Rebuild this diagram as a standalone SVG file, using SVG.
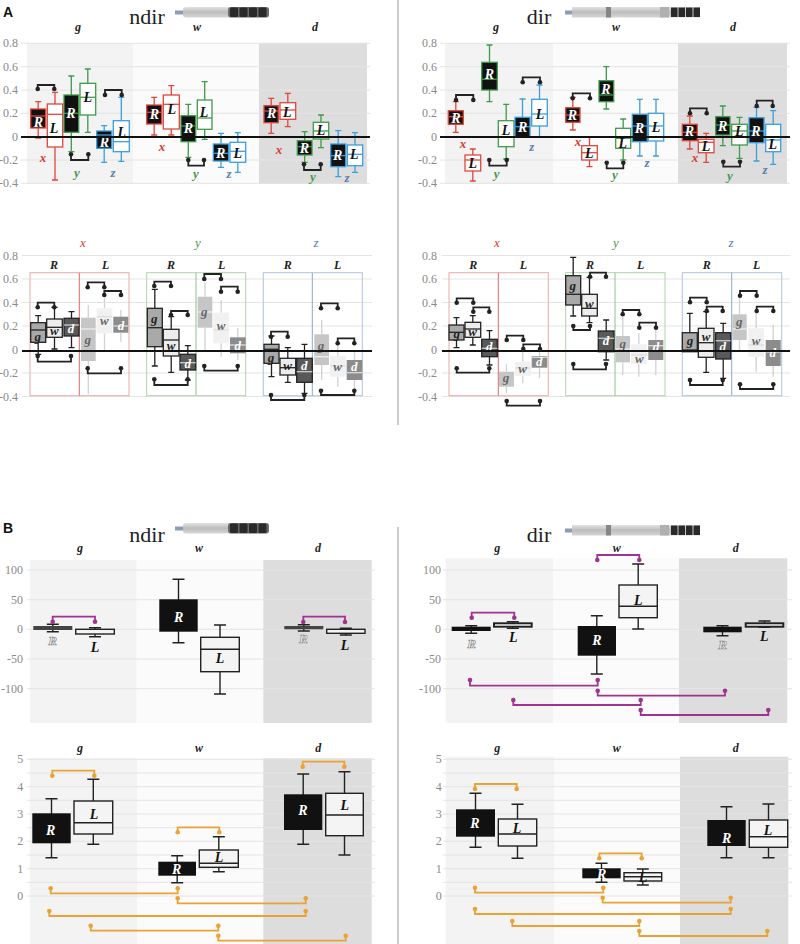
<svg xmlns="http://www.w3.org/2000/svg" width="800" height="944" viewBox="0 0 800 944">
<style>
text{font-family:"Liberation Serif",serif}
.ax{font-size:12px;fill:#8a8a8a;text-anchor:end}
.hd{font-size:12px;font-style:italic;font-weight:bold;fill:#222;text-anchor:middle}
.ti{font-size:22px;fill:#222;text-anchor:middle}
.pl{font-family:"Liberation Sans",sans-serif;font-size:14px;font-weight:bold;fill:#111}
.lw{font-size:14px;font-style:italic;font-weight:bold;fill:#fff;text-anchor:middle}
.lk{font-size:14px;font-style:italic;font-weight:bold;fill:#111;text-anchor:middle}
.hol{font-size:13px;font-style:italic;font-weight:bold;fill:#fff;stroke:#8a8a8a;stroke-width:0.7;text-anchor:middle}
.gl{font-size:13px;font-style:italic;font-weight:bold;fill:#222;text-anchor:middle}
.gw{font-size:13px;font-style:italic;font-weight:bold;fill:#fff;text-anchor:middle}
.gf{font-size:13px;font-style:italic;font-weight:bold;fill:#666;text-anchor:middle}
.cx{font-size:13px;font-style:italic;font-weight:bold;fill:#d93a30;text-anchor:middle}
.cy{font-size:13px;font-style:italic;font-weight:bold;fill:#3f9a4a;text-anchor:middle}
.cz{font-size:13px;font-style:italic;font-weight:bold;fill:#5b7fa8;text-anchor:middle}
.hx{font-size:13px;font-style:italic;fill:#d93a30;text-anchor:middle}
.hy{font-size:13px;font-style:italic;fill:#3f9a4a;text-anchor:middle}
.hz{font-size:13px;font-style:italic;fill:#4a78b8;text-anchor:middle}
.grid{stroke:#e4e4e4;stroke-width:1}
.zero{stroke:#111;stroke-width:2}
.div{stroke:#999;stroke-width:1}
.s{fill:none;stroke-width:1.3}
.red{stroke:#e0463c}.grn{stroke:#3f9a4a}.blu{stroke:#3a9fdc}
.k{stroke:#222}.fwk{stroke:#d2d2d2}
.kf{fill:#111}.wf{fill:#fff}
rect.bx{stroke-width:1.3}
.gg{fill:#a9a9a9}.gwf{fill:#ededed}.gd{fill:#595959}
.fg{fill:#c6c6c6}.fw{fill:#f1f1f1}.fd{fill:#8c8c8c}
.bandg{fill:#f3f3f3}.bandw{fill:#fbfbfb}.bandd{fill:#dddddd}
.br{fill:none;stroke:#222;stroke-width:1.8}.bd{fill:#222}
.pu{fill:none;stroke:#a0338f;stroke-width:1.8}.pud{fill:#a0338f}
.or{fill:none;stroke:#eba234;stroke-width:1.8}.ord{fill:#eba234}
.bw{fill:none;stroke:#222;stroke-width:1.4}
.bl{fill:#f4f4f4;stroke:#222;stroke-width:1.4}
.bk{fill:#111}
</style>
<defs>
<linearGradient id="pg" x1="0" y1="0" x2="0" y2="1">
<stop offset="0" stop-color="#e2e2e2"/><stop offset="0.5" stop-color="#bdbdbd"/><stop offset="1" stop-color="#d6d6d6"/>
</linearGradient>
<g id="penN">
<rect x="175" y="10.5" width="9" height="4" fill="#8d9bb5"/>
<rect x="183" y="7" width="86" height="10.5" rx="3" fill="url(#pg)"/>
<rect x="228" y="7" width="41" height="10.5" rx="3" fill="#6a6a6a"/>
<rect x="230" y="7.5" width="8" height="9.5" rx="1.5" fill="#2a2a2a"/>
<rect x="239.5" y="7.5" width="8" height="9.5" rx="1.5" fill="#2a2a2a"/>
<rect x="249" y="7.5" width="8" height="9.5" rx="1.5" fill="#2a2a2a"/>
<rect x="258.5" y="7.5" width="8" height="9.5" rx="1.5" fill="#2a2a2a"/>
</g>
<g id="penD">
<rect x="565" y="10.5" width="8" height="4" fill="#8d9bb5"/>
<rect x="572" y="7" width="128" height="10.5" fill="url(#pg)"/>
<rect x="606" y="7" width="5" height="10.5" fill="#858585"/>
<rect x="660" y="7" width="9" height="10.5" fill="#b0b0b0"/>
<rect x="671" y="7.5" width="6.5" height="9.5" fill="#2a2a2a"/>
<rect x="678.5" y="7.5" width="6.5" height="9.5" fill="#2a2a2a"/>
<rect x="686" y="7.5" width="6.5" height="9.5" fill="#2a2a2a"/>
<rect x="693.5" y="7.5" width="6.5" height="9.5" fill="#2a2a2a"/>
</g>
</defs>
<rect width="800" height="944" fill="#fff"/>

<g id="titles">
<text class="pl" x="3" y="17">A</text>
<text class="ti" x="147" y="24">ndir</text>
<use href="#penN"/>
<text class="ti" x="539" y="24">dir</text>
<use href="#penD"/>
<text class="pl" x="3" y="533">B</text>
<text class="ti" x="147" y="542">ndir</text>
<use href="#penN" transform="translate(0,516)"/>
<text class="ti" x="539" y="542">dir</text>
<use href="#penD" transform="translate(0,518)"/>
<line class="div" x1="398" y1="0" x2="398" y2="425"/>
<line class="div" x1="398" y1="527" x2="398" y2="944"/>
</g>

<g id="a-top-axes">
<rect class="bandg" x="27" y="43" width="106" height="141"/>
<rect class="bandw" x="133" y="43" width="126" height="141"/>
<rect class="bandd" x="259" y="43" width="108" height="141"/>
<rect class="bandg" x="445" y="43" width="108" height="141"/>
<rect class="bandw" x="553" y="43" width="125" height="141"/>
<rect class="bandd" x="678" y="43" width="109" height="141"/>
<g class="grid">
<line x1="21" y1="43.3" x2="370" y2="43.3"/><line x1="21" y1="66.7" x2="370" y2="66.7"/><line x1="21" y1="90" x2="370" y2="90"/><line x1="21" y1="113.3" x2="370" y2="113.3"/><line x1="21" y1="160" x2="370" y2="160"/><line x1="21" y1="183.3" x2="370" y2="183.3"/>
<line x1="440" y1="43.3" x2="790" y2="43.3"/><line x1="440" y1="66.7" x2="790" y2="66.7"/><line x1="440" y1="90" x2="790" y2="90"/><line x1="440" y1="113.3" x2="790" y2="113.3"/><line x1="440" y1="160" x2="790" y2="160"/><line x1="440" y1="183.3" x2="790" y2="183.3"/>
</g>
<text class="ax" x="18" y="47.3">0.8</text><text class="ax" x="18" y="70.7">0.6</text><text class="ax" x="18" y="94">0.4</text><text class="ax" x="18" y="117.3">0.2</text><text class="ax" x="18" y="140.7">0</text><text class="ax" x="18" y="164">-0.2</text><text class="ax" x="18" y="187.3">-0.4</text>
<text class="ax" x="437" y="47.3">0.8</text><text class="ax" x="437" y="70.7">0.6</text><text class="ax" x="437" y="94">0.4</text><text class="ax" x="437" y="117.3">0.2</text><text class="ax" x="437" y="140.7">0</text><text class="ax" x="437" y="164">-0.2</text><text class="ax" x="437" y="187.3">-0.4</text>
<text class="hd" x="78" y="31">g</text><text class="hd" x="197" y="31">w</text><text class="hd" x="315" y="31">d</text>
<text class="hd" x="496" y="31">g</text><text class="hd" x="616" y="31">w</text><text class="hd" x="733" y="31">d</text>
</g>

<g id="a-ndir-g-xR"><path class="s red" d="M38.2,101.7V109M38.2,128V138M35.2,101.7h6M35.2,138h6"/><rect class="bx red kf" x="30.7" y="109" width="15" height="19"/><path class="s red" d="M30.7,116h15"/><text class="lw" x="38.3" y="127.3">R</text></g>
<g id="a-ndir-g-xL"><path class="s red" d="M55,92.3V104M55,147V180M52,92.3h6M52,180h6"/><rect class="bx red wf" x="47.3" y="104" width="15.4" height="43"/><path class="s red" d="M47.3,114.3h15.4"/><text class="lk" x="54" y="133.3">L</text></g>
<g id="a-ndir-g-yR"><path class="s grn" d="M71.3,76V95M71.3,132.3V151.7M68.3,76h6M68.3,151.7h6"/><rect class="bx grn kf" x="64" y="95" width="14.7" height="37.3"/><path class="s grn" d="M64,113.3h14.7"/><text class="lw" x="71" y="118.3">R</text></g>
<g id="a-ndir-g-yL"><path class="s grn" d="M87.8,69V83.3M87.8,115V132.3M84.8,69h6M84.8,132.3h6"/><rect class="bx grn wf" x="80" y="83.3" width="15.7" height="31.7"/><path class="s grn" d="M80,97.3h15.7"/><text class="lk" x="87.7" y="101.7">L</text></g>
<g id="a-ndir-g-zR"><path class="s blu" d="M104.2,125.7V131M104.2,148.3V162.3M101.2,125.7h6M101.2,162.3h6"/><rect class="bx blu kf" x="96.7" y="131" width="15" height="17.3"/><path class="s blu" d="M96.7,135h15"/><text class="lw" x="104.3" y="146.7">R</text></g>
<g id="a-ndir-g-zL"><path class="s blu" d="M121.3,97.3V120.7M121.3,151.7V161.3M118.3,97.3h6M118.3,161.3h6"/><rect class="bx blu wf" x="113.3" y="120.7" width="16" height="31"/><path class="s blu" d="M113.3,141.7h16"/><text class="lk" x="121.7" y="136.7">L</text></g>
<g id="a-ndir-w-xR"><path class="s red" d="M154.2,97.3V105M154.2,124V135M151.2,97.3h6M151.2,135h6"/><rect class="bx red kf" x="146.7" y="105" width="15" height="19"/><path class="s red" d="M146.7,112.3h15"/><text class="lw" x="154.3" y="119.3">R</text></g>
<g id="a-ndir-w-xL"><path class="s red" d="M171.3,85.7V95M171.3,129V135M168.3,85.7h6M168.3,135h6"/><rect class="bx red wf" x="163.3" y="95" width="16" height="34"/><path class="s red" d="M163.3,104.3h16"/><text class="lk" x="171.7" y="114">L</text></g>
<g id="a-ndir-w-yR"><path class="s grn" d="M188.3,104.3V115.7M188.3,141.7V157.3M185.3,104.3h6M185.3,157.3h6"/><rect class="bx grn kf" x="181" y="115.7" width="14.7" height="26"/><path class="s grn" d="M181,126h14.7"/><text class="lw" x="188.3" y="133.3">R</text></g>
<g id="a-ndir-w-yL"><path class="s grn" d="M204.7,81.7V100M204.7,129.3V139.3M201.7,81.7h6M201.7,139.3h6"/><rect class="bx grn wf" x="197.3" y="100" width="14.7" height="29.3"/><path class="s grn" d="M197.3,118h14.7"/><text class="lk" x="204" y="117.3">L</text></g>
<g id="a-ndir-w-zR"><path class="s blu" d="M221,133.3V144M221,161V167.3M218,133.3h6M218,167.3h6"/><rect class="bx blu kf" x="213.3" y="144" width="15.4" height="17"/><path class="s blu" d="M213.3,153.3h15.4"/><text class="lw" x="220.7" y="158.3">R</text></g>
<g id="a-ndir-w-zL"><path class="s blu" d="M237.8,132.7V142.3M237.8,162.3V172.3M234.8,132.7h6M234.8,172.3h6"/><rect class="bx blu wf" x="230" y="142.3" width="15.7" height="20"/><path class="s blu" d="M230,151.3h15.7"/><text class="lk" x="237.7" y="158.3">L</text></g>
<g id="a-ndir-d-xR"><path class="s red" d="M271.2,98.3V105.7M271.2,122.7V133.3M268.2,98.3h6M268.2,133.3h6"/><rect class="bx red kf" x="264" y="105.7" width="14.3" height="17"/><path class="s red" d="M264,111h14.3"/><text class="lw" x="271.7" y="118.3">R</text></g>
<g id="a-ndir-d-xL"><path class="s red" d="M287.8,93.3V102.7M287.8,119.3V126.7M284.8,93.3h6M284.8,126.7h6"/><rect class="bx red wf" x="280" y="102.7" width="15.7" height="16.6"/><path class="s red" d="M280,110h15.7"/><text class="lk" x="287.3" y="117.3">L</text></g>
<g id="a-ndir-d-yR"><path class="s grn" d="M304.7,131.7V140.7M304.7,155V162.3M301.7,131.7h6M301.7,162.3h6"/><rect class="bx grn kf" x="297.3" y="140.7" width="14.7" height="14.3"/><path class="s grn" d="M297.3,146.7h14.7"/><text class="lw" x="304.3" y="152.7">R</text></g>
<g id="a-ndir-d-yL"><path class="s grn" d="M321,115V122.3M321,139V147.7M318,115h6M318,147.7h6"/><rect class="bx grn wf" x="313.3" y="122.3" width="15.4" height="16.7"/><path class="s grn" d="M313.3,131h15.4"/><text class="lk" x="321" y="135">L</text></g>
<g id="a-ndir-d-zR"><path class="s blu" d="M338.2,130.7V144M338.2,166.7V176.7M335.2,130.7h6M335.2,176.7h6"/><rect class="bx blu kf" x="330.7" y="144" width="15" height="22.7"/><path class="s blu" d="M330.7,155.7h15"/><text class="lw" x="337.7" y="160">R</text></g>
<g id="a-ndir-d-zL"><path class="s blu" d="M355,132.7V145M355,165.7V172.3M352,132.7h6M352,172.3h6"/><rect class="bx blu wf" x="347.3" y="145" width="15.4" height="20.7"/><path class="s blu" d="M347.3,154.3h15.4"/><text class="lk" x="354.3" y="159.3">L</text></g>
<g id="a-ndir-axislabels">
<text class="cx" x="43" y="162">x</text><text class="cy" x="77" y="177">y</text><text class="cz" x="113" y="177">z</text>
<text class="cx" x="162" y="151">x</text><text class="cy" x="196" y="178">y</text><text class="cz" x="229" y="178">z</text>
<text class="cx" x="279" y="154">x</text><text class="cy" x="313" y="181">y</text><text class="cz" x="347" y="182">z</text>
</g>

<g id="a-dir-g-xR"><path class="s red" d="M455.8,101.7V110.7M455.8,124.3V132.3M452.8,101.7h6M452.8,132.3h6"/><rect class="bx red kf" x="448.3" y="110.7" width="15" height="13.6"/><path class="s red" d="M448.3,116.7h15"/><text class="lw" x="456" y="123.3">R</text></g>
<g id="a-dir-g-xL"><path class="s red" d="M472.8,149V155M472.8,171V181M469.8,149h6M469.8,181h6"/><rect class="bx red wf" x="465" y="155" width="15.7" height="16"/><path class="s red" d="M465,160h15.7"/><text class="lk" x="472.7" y="167.7">L</text></g>
<g id="a-dir-g-yR"><path class="s grn" d="M489.5,45V62.3M489.5,90V101.7M486.5,45h6M486.5,101.7h6"/><rect class="bx grn kf" x="481.7" y="62.3" width="15.6" height="27.7"/><path class="s grn" d="M481.7,79.3h15.6"/><text class="lw" x="489.3" y="79">R</text></g>
<g id="a-dir-g-yL"><path class="s grn" d="M506.2,104.3V120.7M506.2,146.7V159M503.2,104.3h6M503.2,159h6"/><rect class="bx grn wf" x="498.3" y="120.7" width="15.7" height="26"/><path class="s grn" d="M498.3,136.7h15.7"/><text class="lk" x="506" y="135">L</text></g>
<g id="a-dir-g-zR"><path class="s blu" d="M522.5,99V117.3M519.5,99h6"/><rect class="bx blu kf" x="515" y="117.3" width="15" height="20"/><path class="s blu" d="M515,126.7h15"/><text class="lw" x="522.7" y="132.3">R</text></g>
<g id="a-dir-g-zL"><path class="s blu" d="M539.5,85V99.3M539.5,126V137.3M536.5,85h6M536.5,137.3h6"/><rect class="bx blu wf" x="531.7" y="99.3" width="15.6" height="26.7"/><path class="s blu" d="M531.7,114h15.6"/><text class="lk" x="540" y="119">L</text></g>
<g id="a-dir-w-xR"><path class="s red" d="M572.8,97.3V107.7M572.8,122.3V130M569.8,97.3h6M569.8,130h6"/><rect class="bx red kf" x="565.7" y="107.7" width="14.3" height="14.6"/><path class="s red" d="M565.7,115h14.3"/><text class="lw" x="572.3" y="120">R</text></g>
<g id="a-dir-w-xL"><path class="s red" d="M589.5,137.3V145.7M589.5,160V166.7M586.5,137.3h6M586.5,166.7h6"/><rect class="bx red wf" x="581.7" y="145.7" width="15.6" height="14.3"/><path class="s red" d="M581.7,152.7h15.6"/><text class="lk" x="589.3" y="158.3">L</text></g>
<g id="a-dir-w-yR"><path class="s grn" d="M606.3,66.7V80.7M606.3,101.7V109M603.3,66.7h6M603.3,109h6"/><rect class="bx grn kf" x="599" y="80.7" width="14.7" height="21"/><path class="s grn" d="M599,95h14.7"/><text class="lw" x="606" y="94.3">R</text></g>
<g id="a-dir-w-yL"><path class="s grn" d="M623.2,119V128.3M623.2,148.3V160M620.2,119h6M620.2,160h6"/><rect class="bx grn wf" x="615.7" y="128.3" width="15" height="20"/><path class="s grn" d="M615.7,138.3h15"/><text class="lk" x="622.7" y="148.3">L</text></g>
<g id="a-dir-w-zR"><path class="s blu" d="M639.8,99.3V114.3M639.8,141.7V156M636.8,99.3h6M636.8,156h6"/><rect class="bx blu kf" x="632.3" y="114.3" width="15" height="27.4"/><path class="s blu" d="M632.3,126h15"/><text class="lw" x="639.3" y="132.7">R</text></g>
<g id="a-dir-w-zL"><path class="s blu" d="M656,99.3V113.3M656,141V156M653,99.3h6M653,156h6"/><rect class="bx blu wf" x="648.3" y="113.3" width="15.4" height="27.7"/><path class="s blu" d="M648.3,126h15.4"/><text class="lk" x="656" y="131.7">L</text></g>
<g id="a-dir-d-xR"><path class="s red" d="M689.8,116V124.3M689.8,140.7V149M686.8,116h6M686.8,149h6"/><rect class="bx red kf" x="682.3" y="124.3" width="15" height="16.4"/><path class="s red" d="M682.3,132.3h15"/><text class="lw" x="689.3" y="136">R</text></g>
<g id="a-dir-d-xL"><path class="s red" d="M706.2,133.3V139.3M706.2,152.7V162.3M703.2,133.3h6M703.2,162.3h6"/><rect class="bx red wf" x="698.3" y="139.3" width="15.7" height="13.4"/><path class="s red" d="M698.3,142.3h15.7"/><text class="lk" x="706" y="150.7">L</text></g>
<g id="a-dir-d-yR"><path class="s grn" d="M722.8,106V116.7M722.8,135V145.7M719.8,106h6M719.8,145.7h6"/><rect class="bx grn kf" x="715.7" y="116.7" width="14.3" height="18.3"/><path class="s grn" d="M715.7,125h14.3"/><text class="lw" x="722.7" y="131">R</text></g>
<g id="a-dir-d-yL"><path class="s grn" d="M739.5,117.3V124.3M739.5,145V158.3M736.5,117.3h6M736.5,158.3h6"/><rect class="bx grn wf" x="731.7" y="124.3" width="15.6" height="20.7"/><path class="s grn" d="M731.7,131h15.6"/><text class="lk" x="739.3" y="136">L</text></g>
<g id="a-dir-d-zR"><path class="s blu" d="M756.5,107.3V117.7M756.5,142.7V161M753.5,107.3h6M753.5,161h6"/><rect class="bx blu kf" x="749" y="117.7" width="15" height="25"/><path class="s blu" d="M749,131h15"/><text class="lw" x="756" y="135.7">R</text></g>
<g id="a-dir-d-zL"><path class="s blu" d="M773.2,110.7V124.3M773.2,151.7V164.3M770.2,110.7h6M770.2,164.3h6"/><rect class="bx blu wf" x="765.7" y="124.3" width="15" height="27.4"/><path class="s blu" d="M765.7,140h15"/><text class="lk" x="772.7" y="149">L</text></g>
<g id="a-dir-axislabels">
<text class="cx" x="463" y="148">x</text><text class="cy" x="496.7" y="178">y</text><text class="cz" x="531.7" y="151">z</text>
<text class="cx" x="578" y="146">x</text><text class="cy" x="615" y="179">y</text><text class="cz" x="647" y="167">z</text>
<text class="cx" x="695" y="161.7">x</text><text class="cy" x="730" y="179.7">y</text><text class="cz" x="765" y="174">z</text>
</g>
<g id="a-top-zero"><line class="zero" x1="21" y1="137" x2="370" y2="137"/><line class="zero" x1="440" y1="137" x2="790" y2="137"/></g>

<g id="a-low-axes">
<g class="grid">
<line x1="22" y1="255.5" x2="372" y2="255.5"/><line x1="22" y1="279" x2="372" y2="279"/><line x1="22" y1="302.5" x2="372" y2="302.5"/><line x1="22" y1="326" x2="372" y2="326"/><line x1="22" y1="373" x2="372" y2="373"/><line x1="22" y1="396.5" x2="372" y2="396.5"/>
<line x1="442" y1="255.5" x2="790" y2="255.5"/><line x1="442" y1="279" x2="790" y2="279"/><line x1="442" y1="302.5" x2="790" y2="302.5"/><line x1="442" y1="326" x2="790" y2="326"/><line x1="442" y1="373" x2="790" y2="373"/><line x1="442" y1="396.5" x2="790" y2="396.5"/>
</g>
<text class="ax" x="18" y="259.5">0.8</text><text class="ax" x="18" y="283">0.6</text><text class="ax" x="18" y="306.5">0.4</text><text class="ax" x="18" y="330">0.2</text><text class="ax" x="18" y="353.5">0</text><text class="ax" x="18" y="377">-0.2</text><text class="ax" x="18" y="400.5">-0.4</text>
<text class="ax" x="437" y="259.5">0.8</text><text class="ax" x="437" y="283">0.6</text><text class="ax" x="437" y="306.5">0.4</text><text class="ax" x="437" y="330">0.2</text><text class="ax" x="437" y="353.5">0</text><text class="ax" x="437" y="377">-0.2</text><text class="ax" x="437" y="400.5">-0.4</text>
<text class="hx" x="83" y="247">x</text><text class="hy" x="198" y="247">y</text><text class="hz" x="316" y="247">z</text>
<text class="hx" x="497" y="247">x</text><text class="hy" x="616" y="247">y</text><text class="hz" x="731" y="247">z</text>
<text class="hd" x="54" y="269">R</text><text class="hd" x="105.7" y="269">L</text><text class="hd" x="171" y="269">R</text><text class="hd" x="221.7" y="269">L</text><text class="hd" x="287.7" y="269">R</text><text class="hd" x="337.7" y="269">L</text>
<text class="hd" x="473.3" y="269">R</text><text class="hd" x="523.3" y="269">L</text><text class="hd" x="590" y="269">R</text><text class="hd" x="640.7" y="269">L</text><text class="hd" x="706.7" y="269">R</text><text class="hd" x="756.7" y="269">L</text>
<g fill="none" stroke-width="1">
<rect x="30" y="272.7" width="99" height="123" stroke="#eeaaaa"/><line x1="79.3" y1="272.7" x2="79.3" y2="395.7" stroke="#e06a6a"/>
<rect x="146.7" y="272.7" width="99" height="123" stroke="#aed4a8"/><line x1="196" y1="272.7" x2="196" y2="395.7" stroke="#8cc488"/>
<rect x="263.3" y="272.7" width="99" height="123" stroke="#b0c4de"/><line x1="312.3" y1="272.7" x2="312.3" y2="395.7" stroke="#8aa8d0"/>
<rect x="449" y="272.7" width="99.3" height="123" stroke="#eeaaaa"/><line x1="498.3" y1="272.7" x2="498.3" y2="395.7" stroke="#e06a6a"/>
<rect x="565.7" y="272.7" width="99.3" height="123" stroke="#aed4a8"/><line x1="615" y1="272.7" x2="615" y2="395.7" stroke="#8cc488"/>
<rect x="682.3" y="272.7" width="99.4" height="123" stroke="#b0c4de"/><line x1="731.7" y1="272.7" x2="731.7" y2="395.7" stroke="#8aa8d0"/>
</g>
</g>

<g id="b-ndir-x-R-g"><path class="s k" d="M38.2,315.7V322.7M38.2,342.3V354.3M35.2,315.7h6M35.2,354.3h6"/><rect class="bx k gg" x="30.7" y="322.7" width="15" height="19.6"/><path class="s k" d="M30.7,330h15"/><text class="gl" x="37.7" y="340.5">g</text></g>
<g id="b-ndir-x-R-w"><path class="s k" d="M54.5,307.3V319M54.5,337.3V349M51.5,307.3h6M51.5,349h6"/><rect class="bx k gwf" x="46.7" y="319" width="15.6" height="18.3"/><path class="s k" d="M46.7,327.3h15.6"/><text class="gl" x="54.3" y="334.5">w</text></g>
<g id="b-ndir-x-R-d"><path class="s k" d="M71.5,311.7V318.3M71.5,336V347.7M68.5,311.7h6M68.5,347.7h6"/><rect class="bx k gd" x="64" y="318.3" width="15" height="17.7"/><path class="s" stroke="#ccc" d="M64,325h15"/><text class="gw" x="71" y="332.8">d</text></g>
<g id="b-ndir-x-L-g"><path class="s fwk" d="M88.3,305V317.7M88.3,361V394.3"/><rect class="fg" x="81" y="317.7" width="14.7" height="43.3"/><path class="s" stroke="#eee" d="M81,329h14.7"/><text class="gf" x="87.7" y="343.8">g</text></g>
<g id="b-ndir-x-L-w"><path class="s fwk" d="M104.5,298V308.3M104.5,333.3V350"/><rect class="fw" x="96.7" y="308.3" width="15.6" height="25"/><path class="s" stroke="#ddd" d="M96.7,316.7h15.6"/><text class="gf" x="104.3" y="325.2">w</text></g>
<g id="b-ndir-x-L-d"><path class="s fwk" d="M120.8,310V316.7M120.8,332.7V341.7"/><rect class="fd" x="113.3" y="316.7" width="15" height="16"/><path class="s" stroke="#ddd" d="M113.3,326h15"/><text class="gw" x="121" y="330">d</text></g>
<g id="b-ndir-y-R-g"><path class="s k" d="M154.8,289.3V308.3M154.8,346.7V366M151.8,289.3h6M151.8,366h6"/><rect class="bx k gg" x="147.3" y="308.3" width="15" height="38.4"/><path class="s k" d="M147.3,327.7h15"/><text class="gl" x="154.3" y="322.8">g</text></g>
<g id="b-ndir-y-R-w"><path class="s k" d="M171.2,316.7V329.3M171.2,356V372.3M168.2,316.7h6M168.2,372.3h6"/><rect class="bx k gwf" x="163.3" y="329.3" width="15.7" height="26.7"/><path class="s k" d="M163.3,340h15.7"/><text class="gl" x="171" y="349.5">w</text></g>
<g id="b-ndir-y-R-d"><path class="s k" d="M187.8,345.7V354.3M187.8,370V380M184.8,345.7h6M184.8,380h6"/><rect class="bx k gd" x="180" y="354.3" width="15.7" height="15.7"/><path class="s" stroke="#ccc" d="M180,362.7h15.7"/><text class="gw" x="187.7" y="367.8">d</text></g>
<g id="b-ndir-y-L-g"><path class="s fwk" d="M205,283V296.7M205,327.7V350"/><rect class="fg" x="197.7" y="296.7" width="14.6" height="31"/><path class="s" stroke="#eee" d="M197.7,312h14.6"/><text class="gf" x="204.3" y="316.2">g</text></g>
<g id="b-ndir-y-L-w"><path class="s fwk" d="M221.2,300V312.7M221.2,343.3V356.7"/><rect class="fw" x="213.3" y="312.7" width="15.7" height="30.6"/><path class="s" stroke="#ddd" d="M213.3,330h15.7"/><text class="gf" x="221" y="329.5">w</text></g>
<g id="b-ndir-y-L-d"><path class="s fwk" d="M237.8,328V337.3M237.8,353.3V360"/><rect class="fd" x="230" y="337.3" width="15.7" height="16"/><path class="s" stroke="#ddd" d="M230,345h15.7"/><text class="gw" x="237.7" y="350">d</text></g>
<g id="b-ndir-z-R-g"><path class="s k" d="M271.5,336V344.3M271.5,363.3V376.7M268.5,336h6M268.5,376.7h6"/><rect class="bx k gg" x="264" y="344.3" width="15" height="19"/><path class="s k" d="M264,349.3h15"/><text class="gl" x="271" y="361.8">g</text></g>
<g id="b-ndir-z-R-w"><path class="s k" d="M287.8,347.7V358.3M287.8,375V382.3M284.8,347.7h6M284.8,382.3h6"/><rect class="bx k gwf" x="280" y="358.3" width="15.7" height="16.7"/><path class="s k" d="M280,367.7h15.7"/><text class="gl" x="287.7" y="370">w</text></g>
<g id="b-ndir-z-R-d"><path class="s k" d="M304.5,344.3V358.3M304.5,382.3V393.3M301.5,344.3h6M301.5,393.3h6"/><rect class="bx k gd" x="296.7" y="358.3" width="15.6" height="24"/><path class="s" stroke="#ccc" d="M296.7,371.7h15.6"/><text class="gw" x="304.3" y="370">d</text></g>
<g id="b-ndir-z-L-g"><path class="s fwk" d="M321.7,320V334.3M321.7,365V380"/><rect class="fg" x="314.3" y="334.3" width="14.7" height="30.7"/><path class="s" stroke="#eee" d="M314.3,356.7h14.7"/><text class="gf" x="321" y="349.5">g</text></g>
<g id="b-ndir-z-L-w"><path class="s fwk" d="M337.8,345V356M337.8,376.7V386.7"/><rect class="fw" x="330" y="356" width="15.7" height="20.7"/><path class="s" stroke="#ddd" d="M330,366h15.7"/><text class="gf" x="337.7" y="370.5">w</text></g>
<g id="b-ndir-z-L-d"><path class="s fwk" d="M354.5,350V360M354.5,380V390"/><rect class="fd" x="346.7" y="360" width="15.6" height="20"/><path class="s" stroke="#ddd" d="M346.7,372.7h15.6"/><text class="gw" x="354.3" y="371.2">d</text></g>

<g id="b-dir-x-R-g"><path class="s k" d="M456.5,317.7V325M456.5,340V347.7M453.5,317.7h6M453.5,347.7h6"/><rect class="bx k gg" x="449" y="325" width="15" height="15"/><path class="s k" d="M449,332.3h15"/><text class="gl" x="456.7" y="337.8">g</text></g>
<g id="b-dir-x-R-w"><path class="s k" d="M472.8,315.7V322.3M472.8,337.3V345M469.8,315.7h6M469.8,345h6"/><rect class="bx k gwf" x="465" y="322.3" width="15.7" height="15"/><path class="s k" d="M465,329h15.7"/><text class="gl" x="472.7" y="336.2">w</text></g>
<g id="b-dir-x-R-d"><path class="s k" d="M489.5,330.7V339.3M489.5,356.7V365M486.5,330.7h6M486.5,365h6"/><rect class="bx k gd" x="481.7" y="339.3" width="15.6" height="17.4"/><path class="s" stroke="#ccc" d="M481.7,348.3h15.6"/><text class="gw" x="489.3" y="351.2">d</text></g>
<g id="b-dir-x-L-g"><path class="s fwk" d="M506.5,364.3V371.7M506.5,386.7V393.3"/><rect class="fg" x="499" y="371.7" width="15" height="15"/><text class="gf" x="506" y="382.2">g</text></g>
<g id="b-dir-x-L-w"><path class="s fwk" d="M522.8,351.7V361.7M522.8,376V383.3"/><rect class="fw" x="515" y="361.7" width="15.7" height="14.3"/><path class="s" stroke="#ddd" d="M515,368h15.7"/><text class="gf" x="522.7" y="372.8">w</text></g>
<g id="b-dir-x-L-d"><path class="s fwk" d="M539.5,347.7V356M539.5,367.7V378.3"/><rect class="fd" x="531.7" y="356" width="15.6" height="11.7"/><path class="s" stroke="#ddd" d="M531.7,357.3h15.6"/><text class="gw" x="539.3" y="366.2">d</text></g>
<g id="b-dir-y-R-g"><path class="s k" d="M573.2,257.3V275.7M573.2,305V316M570.2,257.3h6M570.2,316h6"/><rect class="bx k gg" x="565.7" y="275.7" width="15" height="29.3"/><path class="s k" d="M565.7,294.3h15"/><text class="gl" x="572.7" y="290.2">g</text></g>
<g id="b-dir-y-R-w"><path class="s k" d="M589.5,277.3V294.3M589.5,316V322.7M586.5,277.3h6M586.5,322.7h6"/><rect class="bx k gwf" x="581.7" y="294.3" width="15.6" height="21.7"/><path class="s k" d="M581.7,308.3h15.6"/><text class="gl" x="589.3" y="307.8">w</text></g>
<g id="b-dir-y-R-d"><path class="s k" d="M606.2,320V331M606.2,351.7V360M603.2,320h6M603.2,360h6"/><rect class="bx k gd" x="598.3" y="331" width="15.7" height="20.7"/><path class="s" stroke="#ccc" d="M598.3,338.3h15.7"/><text class="gw" x="606" y="344.5">d</text></g>
<g id="b-dir-y-L-g"><path class="s fwk" d="M622.8,316.7V336M622.8,362.3V375"/><rect class="fg" x="615.7" y="336" width="14.3" height="26.3"/><path class="s" stroke="#eee" d="M615.7,349h14.3"/><text class="gf" x="622.7" y="347.8">g</text></g>
<g id="b-dir-y-L-w"><path class="s fwk" d="M638.8,333.3V344.3M638.8,364.3V376.7"/><rect class="fw" x="631" y="344.3" width="15.7" height="20"/><path class="s" stroke="#ddd" d="M631,355h15.7"/><text class="gf" x="639.3" y="362.8">w</text></g>
<g id="b-dir-y-L-d"><path class="s fwk" d="M655.8,330V340M655.8,360V375"/><rect class="fd" x="648.3" y="340" width="15" height="20"/><path class="s" stroke="#ddd" d="M648.3,345.7h15"/><text class="gw" x="656" y="351.2">d</text></g>
<g id="b-dir-z-R-g"><path class="s k" d="M689.8,313.3V332.7M686.8,313.3h6"/><rect class="bx k gg" x="682.3" y="332.7" width="15" height="19"/><path class="s k" d="M682.3,350h15"/><text class="gl" x="690" y="344.5">g</text></g>
<g id="b-dir-z-R-w"><path class="s k" d="M706.2,311.7V328.3M706.2,357.3V372.3M703.2,311.7h6M703.2,372.3h6"/><rect class="bx k gwf" x="698.3" y="328.3" width="15.7" height="29"/><path class="s k" d="M698.3,342.7h15.7"/><text class="gl" x="706" y="340.5">w</text></g>
<g id="b-dir-z-R-d"><path class="s k" d="M723.2,323.3V332.7M723.2,359V378.3M720.2,323.3h6M720.2,378.3h6"/><rect class="bx k gd" x="715.7" y="332.7" width="15" height="26.3"/><path class="s" stroke="#ccc" d="M715.7,340.7h15"/><text class="gw" x="722.7" y="351.2">d</text></g>
<g id="b-dir-z-L-g"><path class="s fwk" d="M739.5,296.7V314.3M739.5,340V351.7"/><rect class="fg" x="732.3" y="314.3" width="14.4" height="25.7"/><path class="s" stroke="#eee" d="M732.3,329h14.4"/><text class="gf" x="739.3" y="325.5">g</text></g>
<g id="b-dir-z-L-w"><path class="s fwk" d="M756.2,313.3V328.3M756.2,356.7V371.7"/><rect class="fw" x="748.3" y="328.3" width="15.7" height="28.4"/><path class="s" stroke="#ddd" d="M748.3,345h15.7"/><text class="gf" x="756" y="344.5">w</text></g>
<g id="b-dir-z-L-d"><path class="s fwk" d="M773.2,325V340M773.2,366V376.7"/><rect class="fd" x="765.7" y="340" width="15" height="26"/><path class="s" stroke="#ddd" d="M765.7,352h15"/><text class="gw" x="772.7" y="357.2">d</text></g>
<g id="a-low-zero"><line class="zero" x1="22" y1="351" x2="372" y2="351"/><line class="zero" x1="442" y1="351" x2="790" y2="351"/></g>

<g id="b-top-axes">
<rect class="bandg" x="30" y="560" width="106.7" height="163"/>
<rect class="bandw" x="136.7" y="560" width="126.6" height="163"/>
<rect class="bandd" x="263.3" y="560" width="108.4" height="163"/>
<rect class="bandg" x="445.7" y="558.3" width="107.6" height="164.7"/>
<rect class="bandw" x="553.3" y="558.3" width="125.7" height="164.7"/>
<rect class="bandd" x="679" y="558.3" width="108.3" height="164.7"/>
<g class="grid">
<line x1="27" y1="570" x2="375" y2="570"/><line x1="27" y1="599.7" x2="375" y2="599.7"/><line x1="27" y1="629.3" x2="375" y2="629.3"/><line x1="27" y1="659" x2="375" y2="659"/><line x1="27" y1="688.7" x2="375" y2="688.7"/>
<line x1="443" y1="570" x2="792" y2="570"/><line x1="443" y1="599.7" x2="792" y2="599.7"/><line x1="443" y1="629.3" x2="792" y2="629.3"/><line x1="443" y1="659" x2="792" y2="659"/><line x1="443" y1="688.7" x2="792" y2="688.7"/>
</g>
<text class="ax" x="23" y="574">100</text><text class="ax" x="23" y="603.7">50</text><text class="ax" x="23" y="633.3">0</text><text class="ax" x="23" y="663">-50</text><text class="ax" x="23" y="692.7">-100</text>
<text class="ax" x="441" y="574">100</text><text class="ax" x="441" y="603.7">50</text><text class="ax" x="441" y="633.3">0</text><text class="ax" x="441" y="663">-50</text><text class="ax" x="441" y="692.7">-100</text>
<text class="hd" x="80" y="552">g</text><text class="hd" x="199" y="552">w</text><text class="hd" x="318" y="552">d</text>
<text class="hd" x="497.3" y="552">g</text><text class="hd" x="616.7" y="552">w</text><text class="hd" x="735.7" y="552">d</text>
</g>
<g id="c-ndir-g-R"><path class="bw" d="M52.8,624.3V631.7M46.8,624.3h12M46.8,631.7h12"/><rect x="33.3" y="626" width="39" height="4" fill="#444"/><text class="hol" x="52.7" y="645">R</text></g>
<g id="c-ndir-g-L"><path class="bw" d="M95,627.7V636.7M89,627.7h12M89,636.7h12"/><rect class="bl" x="75.7" y="629.3" width="38.6" height="4.7"/><text class="lk" x="95" y="652">L</text></g>
<g id="c-ndir-w-R"><path class="bw" d="M178.5,579.3V642.7M172.5,579.3h12M172.5,642.7h12"/><rect class="bk" x="159.3" y="599.3" width="38.4" height="32.4"/><text class="lw" x="178.7" y="622">R</text></g>
<g id="c-ndir-w-L"><path class="bw" d="M220,625V694M214,625h12M214,694h12"/><rect class="bl" x="200.7" y="637.3" width="38.6" height="34.4"/><path class="bw" d="M200.7,649.3h38.6"/><text class="lk" x="220" y="663.3">L</text></g>
<g id="c-ndir-d-R"><path class="bw" d="M303.8,624.7V631M297.8,624.7h12M297.8,631h12"/><rect x="284.3" y="626" width="39" height="3.3" fill="#444"/><text class="hol" x="303.3" y="643">R</text></g>
<g id="c-ndir-d-L"><path class="bw" d="M345.8,628.3V635M339.8,628.3h12M339.8,635h12"/><rect class="bl" x="326.7" y="629.3" width="38.3" height="4"/><text class="lk" x="345" y="650">L</text></g>
<g id="c-dir-g-R"><path class="bw" d="M471.2,625.7V633.3M465.2,625.7h12M465.2,633.3h12"/><rect class="bk" x="451.7" y="626.7" width="39" height="4.3"/><text class="hol" x="471.7" y="648.3">R</text></g>
<g id="c-dir-g-L"><path class="bw" d="M512.8,621.7V628.3M506.8,621.7h12M506.8,628.3h12"/><rect x="494" y="623.3" width="37.7" height="3.4" fill="#fff" stroke="#222" stroke-width="2"/><text class="lk" x="513.3" y="641.7">L</text></g>
<g id="c-dir-w-R"><path class="bw" d="M596.8,615.7V674M590.8,615.7h12M590.8,674h12"/><rect class="bk" x="577.7" y="626" width="38.3" height="29.7"/><text class="lw" x="597" y="645">R</text></g>
<g id="c-dir-w-L"><path class="bw" d="M638.2,564V629M632.2,564h12M632.2,629h12"/><rect class="bl" x="619" y="585" width="38.3" height="32.7"/><path class="bw" d="M619,606.3h38.3"/><text class="lk" x="638.3" y="605">L</text></g>
<g id="c-dir-d-R"><path class="bw" d="M722.5,625.7V635.7M716.5,625.7h12M716.5,635.7h12"/><rect class="bk" x="703.3" y="626.7" width="38.4" height="5.6"/><text class="hol" x="722.7" y="649">R</text></g>
<g id="c-dir-d-L"><path class="bw" d="M764.5,621V627.3M758.5,621h12M758.5,627.3h12"/><rect x="745.7" y="623.3" width="37.6" height="3.4" fill="#fff" stroke="#222" stroke-width="2"/><text class="lk" x="764.3" y="641">L</text></g>

<g id="b-bot-axes">
<rect class="bandg" x="30" y="758.3" width="107.3" height="185.7"/>
<rect class="bandw" x="137.3" y="758.3" width="126" height="185.7"/>
<rect class="bandd" x="263.3" y="758.3" width="108.4" height="185.7"/>
<rect class="bandg" x="445.7" y="756.7" width="108.3" height="187.3"/>
<rect class="bandw" x="554" y="756.7" width="126" height="187.3"/>
<rect class="bandd" x="680" y="756.7" width="108.3" height="187.3"/>
<g class="grid">
<line x1="27" y1="759.3" x2="375" y2="759.3"/><line x1="27" y1="773" x2="375" y2="773"/><line x1="27" y1="786.7" x2="375" y2="786.7"/><line x1="27" y1="800.3" x2="375" y2="800.3"/><line x1="27" y1="814" x2="375" y2="814"/><line x1="27" y1="827.7" x2="375" y2="827.7"/><line x1="27" y1="841.3" x2="375" y2="841.3"/><line x1="27" y1="855" x2="375" y2="855"/><line x1="27" y1="868.7" x2="375" y2="868.7"/><line x1="27" y1="882.3" x2="375" y2="882.3"/><line x1="27" y1="896" x2="375" y2="896"/>
<line x1="443" y1="759.3" x2="792" y2="759.3"/><line x1="443" y1="773" x2="792" y2="773"/><line x1="443" y1="786.7" x2="792" y2="786.7"/><line x1="443" y1="800.3" x2="792" y2="800.3"/><line x1="443" y1="814" x2="792" y2="814"/><line x1="443" y1="827.7" x2="792" y2="827.7"/><line x1="443" y1="841.3" x2="792" y2="841.3"/><line x1="443" y1="855" x2="792" y2="855"/><line x1="443" y1="868.7" x2="792" y2="868.7"/><line x1="443" y1="882.3" x2="792" y2="882.3"/><line x1="443" y1="896" x2="792" y2="896"/>
</g>
<text class="ax" x="23.3" y="763.3">5</text><text class="ax" x="23.3" y="790.7">4</text><text class="ax" x="23.3" y="818">3</text><text class="ax" x="23.3" y="845.3">2</text><text class="ax" x="23.3" y="872.7">1</text><text class="ax" x="23.3" y="900">0</text>
<text class="ax" x="441.7" y="763.3">5</text><text class="ax" x="441.7" y="790.7">4</text><text class="ax" x="441.7" y="818">3</text><text class="ax" x="441.7" y="845.3">2</text><text class="ax" x="441.7" y="872.7">1</text><text class="ax" x="441.7" y="900">0</text>
<text class="hd" x="80" y="752">g</text><text class="hd" x="199" y="752">w</text><text class="hd" x="318.3" y="752">d</text>
<text class="hd" x="497.3" y="752">g</text><text class="hd" x="616.7" y="752">w</text><text class="hd" x="735.7" y="752">d</text>
</g>
<g id="d-ndir-g-R"><path class="bw" d="M51.5,798.7V857.7M45.5,798.7h12M45.5,857.7h12"/><rect class="bk" x="32.3" y="813.3" width="38.4" height="30"/><text class="lw" x="50.7" y="835">R</text></g>
<g id="d-ndir-g-L"><path class="bw" d="M93.3,779.3V844.3M87.3,779.3h12M87.3,844.3h12"/><rect class="bl" x="74" y="801" width="38.7" height="33"/><path class="bw" d="M74,822.7h38.7"/><text class="lk" x="94" y="819">L</text></g>
<g id="d-ndir-w-R"><path class="bw" d="M177.2,855.7V882.7M171.2,855.7h12M171.2,882.7h12"/><rect class="bk" x="158.3" y="861.7" width="37.7" height="14"/><text class="lw" x="176.7" y="874">R</text></g>
<g id="d-ndir-w-L"><path class="bw" d="M218.8,836.7V871.7M212.8,836.7h12M212.8,871.7h12"/><rect class="bl" x="199.3" y="850" width="39" height="17.3"/><path class="bw" d="M199.3,863.3h39"/><text class="lk" x="219" y="862">L</text></g>
<g id="d-ndir-d-R"><path class="bw" d="M303.2,774V844.3M297.2,774h12M297.2,844.3h12"/><rect class="bk" x="284" y="794.3" width="38.3" height="35.7"/><text class="lw" x="303" y="815">R</text></g>
<g id="d-ndir-d-L"><path class="bw" d="M344.5,771.7V855M338.5,771.7h12M338.5,855h12"/><rect class="bl" x="325.7" y="793.3" width="37.6" height="42.4"/><path class="bw" d="M325.7,815h37.6"/><text class="lk" x="344.7" y="810">L</text></g>
<g id="d-dir-g-R"><path class="bw" d="M475.5,793.3V847.3M469.5,793.3h12M469.5,847.3h12"/><rect class="bk" x="456" y="809.3" width="39" height="27.4"/><text class="lw" x="475" y="828">R</text></g>
<g id="d-dir-g-L"><path class="bw" d="M517.5,804.3V858.3M511.5,804.3h12M511.5,858.3h12"/><rect class="bl" x="498.3" y="819" width="38.4" height="27"/><path class="bw" d="M498.3,834h38.4"/><text class="lk" x="517" y="833">L</text></g>
<g id="d-dir-w-R"><path class="bw" d="M601.5,863.3V882.3M595.5,863.3h12M595.5,882.3h12"/><rect class="bk" x="582.3" y="868.3" width="38.4" height="10"/><text class="lw" x="601.7" y="879">R</text></g>
<g id="d-dir-w-L"><path class="bw" d="M642.8,869V885M636.8,869h12M636.8,885h12"/><rect class="bl" x="624" y="872.7" width="37.7" height="8.3"/><path class="bw" d="M624,876.7h37.7"/><text class="lk" x="643" y="882">L</text></g>
<g id="d-dir-d-R"><path class="bw" d="M726.5,806.7V857.7M720.5,806.7h12M720.5,857.7h12"/><rect class="bk" x="707.3" y="820" width="38.4" height="26"/><text class="lw" x="726.7" y="843">R</text></g>
<g id="d-dir-d-L"><path class="bw" d="M768.5,804V857.7M762.5,804h12M762.5,857.7h12"/><rect class="bl" x="749.3" y="820" width="38.4" height="27.3"/><path class="bw" d="M749.3,836.7h38.4"/><text class="lk" x="768" y="835">L</text></g>

<g id="connectors">
<g id="conn-a-top">
<path class="br" d="M37.7,89V85H54.3V89M71,154.3V160H88.3V154.3M105,95V90H121.7V95M188.3,160V165.7H204V160M304,164.3V170H320.7V164.3"/>
<path class="br" d="M456,100V95H473.3V100M489.3,160V165.7H506.7V160M522.7,82.3V77.3H540V82.3M572.7,98.3V93.3H590V98.3M606.7,162.7V168.3H623.3V162.7M690,113.3V108.3H706.7V113.3M723.3,161.7V166.7H740V161.7M756.7,106V100.7H772.7V106"/>
<g class="bd">
<circle cx="37.7" cy="89" r="2.3"/><circle cx="54.3" cy="89" r="2.3"/><circle cx="71" cy="154.3" r="2.3"/><circle cx="88.3" cy="154.3" r="2.3"/><circle cx="105" cy="95" r="2.3"/><circle cx="121.7" cy="95" r="2.3"/><circle cx="188.3" cy="160" r="2.3"/><circle cx="204" cy="160" r="2.3"/><circle cx="304" cy="164.3" r="2.3"/><circle cx="320.7" cy="164.3" r="2.3"/>
<circle cx="456" cy="100" r="2.3"/><circle cx="473.3" cy="100" r="2.3"/><circle cx="489.3" cy="160" r="2.3"/><circle cx="506.7" cy="160" r="2.3"/><circle cx="522.7" cy="82.3" r="2.3"/><circle cx="540" cy="82.3" r="2.3"/><circle cx="572.7" cy="98.3" r="2.3"/><circle cx="590" cy="98.3" r="2.3"/><circle cx="606.7" cy="162.7" r="2.3"/><circle cx="623.3" cy="162.7" r="2.3"/><circle cx="690" cy="113.3" r="2.3"/><circle cx="706.7" cy="113.3" r="2.3"/><circle cx="723.3" cy="161.7" r="2.3"/><circle cx="740" cy="161.7" r="2.3"/><circle cx="756.7" cy="106" r="2.3"/><circle cx="772.7" cy="106" r="2.3"/>
</g>
</g>
<g id="conn-a-low">
<path class="br" d="M37.7,307.3V302.7H54.3V307.3M37.7,356V361.7H71V356M87.7,287.3V282.3H104.3V287.3M104.3,295V291H121V295M87.7,368.3V373.3H121V368.3"/>
<path class="br" d="M154.3,286V281.7H171V286M171,315V311H187.7V315M154.3,379.3V385H187.7V379.3M204.3,279V274H221V279M221,291.7V286.7H237.7V291.7M204.3,366V370.7H237.7V366"/>
<path class="br" d="M271,336.7V331.7H287.7V336.7M271,395V400H304.3V395M321,308.3V303.3H337.7V308.3M337.7,343.3V338.3H354.3V343.3M321,390.7V395H354.3V390.7"/>
<path class="br" d="M456.7,302.7V298.3H473.3V302.7M473.3,311.7V307.3H489.3V311.7M456.7,368.3V372.7H489.3V368.3M506.7,340V335.7H523.3V340M523.3,349V344.3H540V349M506.7,401V405.7H540V401"/>
<path class="br" d="M573.3,326V330H590V326M590,276.7V272.7H606V276.7M573.3,364V369.3H606V364M622.7,314.3V310H639.3V314.3M639.3,327.7V322.7H656V327.7"/>
<path class="br" d="M690,302.3V297.7H706.7V302.3M706.7,311V306.7H722.7V311M690,380V385H722.7V380M740,295.7V291H756.7V295.7M756.7,311V306.7H773.3V311M740,384.3V389H773.3V384.3"/>
<g class="bd">
<circle cx="37.7" cy="307.3" r="2.3"/><circle cx="54.3" cy="307.3" r="2.3"/><circle cx="37.7" cy="356" r="2.3"/><circle cx="71" cy="356" r="2.3"/><circle cx="87.7" cy="287.3" r="2.3"/><circle cx="104.3" cy="287.3" r="2.3"/><circle cx="104.3" cy="295" r="2.3"/><circle cx="121" cy="295" r="2.3"/><circle cx="87.7" cy="368.3" r="2.3"/><circle cx="121" cy="368.3" r="2.3"/>
<circle cx="154.3" cy="286" r="2.3"/><circle cx="171" cy="286" r="2.3"/><circle cx="171" cy="315" r="2.3"/><circle cx="187.7" cy="315" r="2.3"/><circle cx="154.3" cy="379.3" r="2.3"/><circle cx="187.7" cy="379.3" r="2.3"/><circle cx="204.3" cy="279" r="2.3"/><circle cx="221" cy="279" r="2.3"/><circle cx="221" cy="291.7" r="2.3"/><circle cx="237.7" cy="291.7" r="2.3"/><circle cx="204.3" cy="366" r="2.3"/><circle cx="237.7" cy="366" r="2.3"/>
<circle cx="271" cy="336.7" r="2.3"/><circle cx="287.7" cy="336.7" r="2.3"/><circle cx="271" cy="395" r="2.3"/><circle cx="304.3" cy="395" r="2.3"/><circle cx="321" cy="308.3" r="2.3"/><circle cx="337.7" cy="308.3" r="2.3"/><circle cx="337.7" cy="343.3" r="2.3"/><circle cx="354.3" cy="343.3" r="2.3"/><circle cx="321" cy="390.7" r="2.3"/><circle cx="354.3" cy="390.7" r="2.3"/>
<circle cx="456.7" cy="302.7" r="2.3"/><circle cx="473.3" cy="302.7" r="2.3"/><circle cx="473.3" cy="311.7" r="2.3"/><circle cx="489.3" cy="311.7" r="2.3"/><circle cx="456.7" cy="368.3" r="2.3"/><circle cx="489.3" cy="368.3" r="2.3"/><circle cx="506.7" cy="340" r="2.3"/><circle cx="523.3" cy="340" r="2.3"/><circle cx="523.3" cy="349" r="2.3"/><circle cx="540" cy="349" r="2.3"/><circle cx="506.7" cy="401" r="2.3"/><circle cx="540" cy="401" r="2.3"/>
<circle cx="573.3" cy="326" r="2.3"/><circle cx="590" cy="326" r="2.3"/><circle cx="590" cy="276.7" r="2.3"/><circle cx="606" cy="276.7" r="2.3"/><circle cx="573.3" cy="364" r="2.3"/><circle cx="606" cy="364" r="2.3"/><circle cx="622.7" cy="314.3" r="2.3"/><circle cx="639.3" cy="314.3" r="2.3"/><circle cx="639.3" cy="327.7" r="2.3"/><circle cx="656" cy="327.7" r="2.3"/>
<circle cx="690" cy="302.3" r="2.3"/><circle cx="706.7" cy="302.3" r="2.3"/><circle cx="706.7" cy="311" r="2.3"/><circle cx="722.7" cy="311" r="2.3"/><circle cx="690" cy="380" r="2.3"/><circle cx="722.7" cy="380" r="2.3"/><circle cx="740" cy="295.7" r="2.3"/><circle cx="756.7" cy="295.7" r="2.3"/><circle cx="756.7" cy="311" r="2.3"/><circle cx="773.3" cy="311" r="2.3"/><circle cx="740" cy="384.3" r="2.3"/><circle cx="773.3" cy="384.3" r="2.3"/>
</g>
</g>
<g id="conn-b-top">
<path class="pu" d="M52.7,621.7V616.7H95V621.7M303.3,622V616.7H345V622M471.7,617.7V612.7H514.3V617.7M597.3,560V555H639.3V560"/>
<path class="pu" d="M470,680V685.7H597.7V680M597.7,690.7V695.7H725V690.7M513.3,700V705H640.7V700M640.7,710V715H768.3V710"/>
<g class="pud">
<circle cx="52.7" cy="621.7" r="2.3"/><circle cx="95" cy="621.7" r="2.3"/><circle cx="303.3" cy="622" r="2.3"/><circle cx="345" cy="622" r="2.3"/><circle cx="471.7" cy="617.7" r="2.3"/><circle cx="514.3" cy="617.7" r="2.3"/><circle cx="597.3" cy="560" r="2.3"/><circle cx="639.3" cy="560" r="2.3"/>
<circle cx="470" cy="680" r="2.3"/><circle cx="597.7" cy="680" r="2.3"/><circle cx="597.7" cy="690.7" r="2.3"/><circle cx="725" cy="690.7" r="2.3"/><circle cx="513.3" cy="700" r="2.3"/><circle cx="640.7" cy="700" r="2.3"/><circle cx="640.7" cy="710" r="2.3"/><circle cx="768.3" cy="710" r="2.3"/>
</g>
</g>
<g id="conn-b-bot">
<path class="or" d="M52.3,775.7V770.7H94.3V775.7M177.7,832.3V827.3H219.3V832.3M302.7,766.7V761.7H344.3V766.7"/>
<path class="or" d="M50.7,888.3V893.3H177.7V888.3M177.7,898.3V903.3H305.7V898.3M49.3,911V916H305.7V911M90.7,925.7V930.7H218.3V925.7M218.3,935.7V940.7H345.7V935.7"/>
<path class="or" d="M475,789V784H516.7V789M599.3,858.3V853.3H641.7V858.3"/>
<path class="or" d="M475,887.7V892.7H603.3V887.7M602.7,897.7V902.7H730.7V897.7M475,909V914H730.7V909M512.3,921V926H639.3V921M639.3,931V936H767.3V931"/>
<g class="ord">
<circle cx="52.3" cy="775.7" r="2.3"/><circle cx="94.3" cy="775.7" r="2.3"/><circle cx="177.7" cy="832.3" r="2.3"/><circle cx="219.3" cy="832.3" r="2.3"/><circle cx="302.7" cy="766.7" r="2.3"/><circle cx="344.3" cy="766.7" r="2.3"/>
<circle cx="50.7" cy="888.3" r="2.3"/><circle cx="177.7" cy="888.3" r="2.3"/><circle cx="177.7" cy="898.3" r="2.3"/><circle cx="305.7" cy="898.3" r="2.3"/><circle cx="49.3" cy="911" r="2.3"/><circle cx="305.7" cy="911" r="2.3"/><circle cx="90.7" cy="925.7" r="2.3"/><circle cx="218.3" cy="925.7" r="2.3"/><circle cx="218.3" cy="935.7" r="2.3"/><circle cx="345.7" cy="935.7" r="2.3"/>
<circle cx="475" cy="789" r="2.3"/><circle cx="516.7" cy="789" r="2.3"/><circle cx="599.3" cy="858.3" r="2.3"/><circle cx="641.7" cy="858.3" r="2.3"/>
<circle cx="475" cy="887.7" r="2.3"/><circle cx="603.3" cy="887.7" r="2.3"/><circle cx="602.7" cy="897.7" r="2.3"/><circle cx="730.7" cy="897.7" r="2.3"/><circle cx="475" cy="909" r="2.3"/><circle cx="730.7" cy="909" r="2.3"/><circle cx="512.3" cy="921" r="2.3"/><circle cx="639.3" cy="921" r="2.3"/><circle cx="639.3" cy="931" r="2.3"/><circle cx="767.3" cy="931" r="2.3"/>
</g>
</g>
</g>
</svg>
